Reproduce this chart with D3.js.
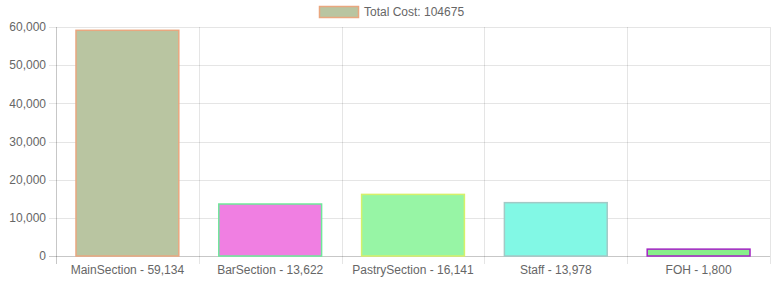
<!DOCTYPE html>
<html>
<head>
<meta charset="utf-8">
<script src="https://cdn.jsdelivr.net/npm/d3@7"></script>
<style>
  body { margin: 0; background: #fff; }
  #chart { width: 771px; height: 282px; }
  text { font-family: "Liberation Sans", Arial, Helvetica, sans-serif; fill: #666; font-size: 12px; }
</style>
</head>
<body>
<div id="chart"></div>
<script>
var sections = ['MainSection', 'BarSection', 'PastrySection', 'Staff', 'FOH'];
var costs = [59134, 13622, 16141, 13978, 1800];
var fills = ['#b9c5a1', '#f07fe2', '#97f5a5', '#82f8e5', '#88ee8a'];
var borders = ['#e9a77f', '#6ee89a', '#d6f06a', '#a3c9c6', '#a323c4'];
var yTicks = [0, 10000, 20000, 30000, 40000, 50000, 60000];
var legendLabel = 'Total Cost: 104675';

var w = 771, h = 282;
var plotLeft = 56, plotRight = 770, plotTop = 27, plotBottom = 256;

var svg = d3.select('#chart').append('svg')
    .attr('width', w)
    .attr('height', h);

var x = d3.scaleBand()
    .domain(sections)
    .range([plotLeft, plotRight]);

var y = d3.scaleLinear()
    .domain([0, 60000])
    .range([plotBottom, plotTop]);

var fmt = d3.format(',');

// horizontal grid + y labels
var yAxis = svg.append('g');
yAxis.selectAll('.hgrid')
    .data(yTicks)
    .enter()
    .append('line')
    .attr('x1', plotLeft - 7)
    .attr('x2', plotRight)
    .attr('y1', function(d){ return Math.round(y(d)) + 0.5; })
    .attr('y2', function(d){ return Math.round(y(d)) + 0.5; })
    .style('stroke', function(d){ return d === 0 ? 'rgba(0,0,0,0.22)' : 'rgba(0,0,0,0.1)'; })
    .style('stroke-width', 1);

yAxis.selectAll('.ylab')
    .data(yTicks)
    .enter()
    .append('text')
    .attr('x', plotLeft - 10)
    .attr('y', function(d){ return y(d); })
    .attr('dy', '0.35em')
    .attr('text-anchor', 'end')
    .text(function(d){ return fmt(d); });

// vertical grid
var edges = sections.map(function(d){ return x(d); }).concat([plotRight]);
svg.append('g').selectAll('line')
    .data(edges)
    .enter()
    .append('line')
    .attr('x1', function(d){ return Math.round(d) + 0.5; })
    .attr('x2', function(d){ return Math.round(d) + 0.5; })
    .attr('y1', plotTop)
    .attr('y2', plotBottom + 8)
    .style('stroke', function(d, i){ return i === 0 ? 'rgba(0,0,0,0.22)' : 'rgba(0,0,0,0.1)'; })
    .style('stroke-width', 1);

// bars
var bw = x.bandwidth() * 0.72;
svg.append('g').selectAll('rect')
    .data(costs)
    .enter()
    .append('rect')
    .attr('x', function(d, i){ return x(sections[i]) + (x.bandwidth() - bw) / 2; })
    .attr('y', function(d){ return y(d); })
    .attr('width', bw)
    .attr('height', function(d){ return plotBottom - y(d); })
    .style('fill', function(d, i){ return fills[i]; })
    .style('stroke', function(d, i){ return borders[i]; })
    .style('stroke-width', 1.5);

// x labels
svg.append('g').selectAll('text')
    .data(costs)
    .enter()
    .append('text')
    .attr('x', function(d, i){ return x(sections[i]) + x.bandwidth() / 2; })
    .attr('y', 274)
    .attr('text-anchor', 'middle')
    .text(function(d, i){ return sections[i] + ' - ' + fmt(d); });

// legend
var lg = svg.append('g');
lg.append('rect')
    .attr('x', 319.5)
    .attr('y', 6.5)
    .attr('width', 39)
    .attr('height', 11)
    .style('fill', fills[0])
    .style('stroke', borders[0])
    .style('stroke-width', 1.5);
lg.append('text')
    .attr('x', 364)
    .attr('y', 16)
    .text(legendLabel);
</script>
</body>
</html>
